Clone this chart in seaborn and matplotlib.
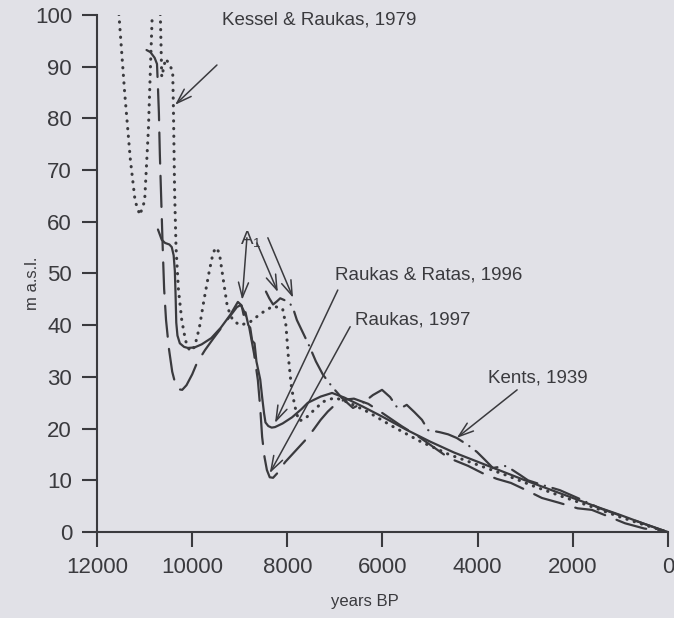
import matplotlib
matplotlib.use('Agg')
import matplotlib.pyplot as plt
import seaborn as sns

sns.set_theme(style="ticks")
plt.rcParams['font.family'] = ['Liberation Sans', 'DejaVu Sans']

# ---- data (years BP, m a.s.l.) ----
kessel_x = [11600, 11540, 11420, 11300, 11200, 11100, 11000, 10920, 10870, 10840, 10760, 10670,
            10655, 10640, 10560, 10480, 10410, 10395, 10370, 10340, 10290, 10220, 10140, 10050,
            9950, 9850, 9750, 9640, 9560, 9500, 9430, 9350, 9260, 9150, 9000, 8800, 8550, 8300,
            8100, 8030, 7980, 7920, 7850, 7760, 7640, 7450, 7250, 7000, 6700, 6300, 5800, 5200,
            4600, 4000, 3400, 2800, 2200, 1600, 1000, 500, 0]
kessel_y = [108, 100, 85, 72, 64, 61.3, 64, 78, 92, 100, 110, 100,
            94, 88, 91.5, 90.5, 89, 82, 66, 55, 47, 41, 37, 35,
            35.8, 39.5, 45, 50.5, 54, 55, 54, 49, 43.5, 41, 40, 40.5, 42.3, 43.7,
            43.2, 40, 34, 28.5, 24.6, 21.5, 21.8, 23.5, 25.2, 26, 25, 23.2, 20.5, 17.5,
            15, 13, 11, 8.8, 6.8, 4.9, 2.9, 1.4, 0]

ratas_x = [10720, 10640, 10570, 10480, 10430, 10390, 10365, 10350, 10335, 10310, 10260, 10170,
           10090, 9950, 9800, 9600, 9400, 9200, 9040, 8960, 8920, 8880, 8820, 8780, 8740, 8690,
           8650, 8570, 8530, 8490, 8460, 8400, 8330, 8260, 8100, 7900, 7700, 7570, 7300, 7060,
           6800, 6400, 6000, 5500, 5000, 4500, 4000, 3500, 3000, 2500, 2000, 1500, 1000, 500, 0]
ratas_y = [58.5, 56.5, 55.9, 55.6, 55.1, 53.5, 50.5, 46, 40.5, 38, 36.5, 35.8,
           35.6, 35.7, 36.3, 37.5, 39.5, 42, 44.5, 43.8, 42.0, 42.5, 40.0, 39.5, 37.0, 36.5,
           33.0, 29.5, 26.1, 23, 21.2, 20.5, 20.2, 20.3, 21, 22.2, 23.8, 25, 26.2, 26.9,
           26, 24.2, 22.3, 19.8, 17.5, 15.4, 13.6, 11.8, 10, 8.3, 6.6, 4.9, 3.3, 1.6, 0]

raukas_x = [10960, 10880, 10790, 10740, 10720, 10700, 10680, 10650, 10620, 10590, 10550, 10490,
            10420, 10350, 10280, 10210, 10120, 10000, 9900, 9730, 9550, 9370, 9200, 9060, 8980,
            8900, 8800, 8700, 8620, 8570, 8530, 8480, 8430, 8370, 8300, 8200, 8050, 7900, 7750,
            7600, 7450, 7300, 7150, 7000, 6800, 6600, 6300, 6000, 5600, 5200, 4600, 4200, 3900,
            3600, 3300, 3000, 2650, 2300, 1900, 1600, 1300, 900, 500, 0]
raukas_y = [93.2, 92.8, 91.7, 90.5, 86, 81, 73, 64, 55, 47, 41, 35.5,
            31, 28.5, 27.6, 27.5, 28.4, 30.5, 32.7, 35.2, 37.5, 39.7, 41.8, 43.5, 43.9,
            42.5, 39.5, 34.5, 29.4, 24, 18.4, 14.5, 12, 10.6, 10.5, 11.5, 13.5, 15, 16.5,
            18, 19.8, 21.7, 23.3, 24.6, 25.6, 25.8, 24.8, 23, 20.5, 18.2, 14.3, 12.8, 11.4,
            10.3, 9.5, 8.2, 6.6, 5.7, 4.6, 4.3, 3.2, 1.7, 0.7, 0]

kents_x = [8450, 8380, 8300, 8220, 8150, 8050, 7950, 7870, 7800, 7670, 7530, 7400, 7250, 7050,
           6850, 6620, 6410, 6200, 6010, 5840, 5700, 5570, 5490, 5330, 5170, 5040, 4900, 4790,
           4620, 4440, 4200, 4015, 3850, 3680, 3550, 3430, 3300, 3100, 2940, 2600, 2270, 1850,
           1430, 1000, 590, 250, 0]
kents_y = [46.5, 45.2, 44.0, 44.6, 45.2, 44.8, 44.3, 43, 41, 38.5, 35.8, 33, 30.4, 28,
           25.9, 24, 25, 26.5, 27.5, 26.1, 24.2, 24.2, 24.6, 23.2, 21.7, 19.7, 19.5, 19.3,
           18.9, 18.2, 16.8, 15.5, 14, 12.4, 12.6, 12.8, 12.2, 11, 10, 9, 8.1, 6.4,
           4.6, 3.2, 1.9, 0.8, 0]

x_ticks = [12000, 10000, 8000, 6000, 4000, 2000, 0]
y_ticks = [0, 10, 20, 30, 40, 50, 60, 70, 80, 90, 100]

ink = '#3a3a3e'
bg = '#e1e1e7'

fig = plt.figure(figsize=(6.74, 6.18), dpi=100, facecolor=bg)
ax = fig.add_axes([0.144, 0.139, 0.847, 0.837], facecolor=bg)

# (x, y, linestyle, linewidth)
series = [
    (kessel_x, kessel_y, (0, (0.1, 2.4)), 2.2),
    (ratas_x, ratas_y, '-', 1.6),
    (raukas_x, raukas_y, (0, (14, 5.5)), 1.6),
    (kents_x, kents_y, (0, (13, 3.5, 0.1, 3.5)), 1.6),
]
for xs, ys, ls, lw in series:
    sns.lineplot(x=xs, y=ys, sort=False, estimator=None, color=ink, lw=lw, ax=ax)
    line = ax.lines[-1]
    line.set_linestyle(ls)
    line.set_dash_capstyle('round')
    line.set_solid_capstyle('round')

ax.set_xlim(12000, 0)
ax.set_ylim(0, 100)
ax.set_xticks(x_ticks)
ax.set_xticklabels([str(t) for t in x_ticks])
ax.set_yticks(y_ticks)
sns.despine(ax=ax)
for s in ['left', 'bottom']:
    ax.spines[s].set_color(ink)
    ax.spines[s].set_linewidth(1.5)
ax.tick_params(axis='both', length=11, width=1.5, color=ink, labelcolor=ink,
               labelsize=16, pad=7, direction='out')

ax.set_xlabel('years BP', fontsize=12, color=ink)
ax.set_ylabel('m a.s.l.', fontsize=12, color=ink)
ax.xaxis.set_label_coords(0.469, -0.12)
ax.yaxis.set_label_coords(-0.1, 0.48)

# annotations
txt = dict(fontsize=13.5, color=ink, ha='left', va='center')
arw = dict(arrowstyle='->,head_length=0.9,head_width=0.3', color=ink, lw=1.1,
           shrinkA=0, shrinkB=0)

ax.text(9380, 99.0, 'Kessel & Raukas, 1979', **txt)
ax.annotate('', xy=(10360, 82.6), xytext=(9480, 90.3), arrowprops=arw)

ax.text(9000, 56.5, r'A$_{\mathregular{1}}$', **txt)
ax.annotate('', xy=(8950, 44.9), xytext=(8850, 56.9), arrowprops=arw)
ax.annotate('', xy=(8200, 46.4), xytext=(8640, 55.9), arrowprops=arw)
ax.annotate('', xy=(7880, 45.3), xytext=(8410, 56.9), arrowprops=arw)

ax.text(7000, 49.7, 'Raukas & Ratas, 1996', **txt)
ax.annotate('', xy=(8260, 21.1), xytext=(6940, 46.8), arrowprops=arw)

ax.text(6580, 41.0, 'Raukas, 1997', **txt)
ax.annotate('', xy=(8370, 11.4), xytext=(6680, 39.7), arrowprops=arw)

ax.text(3780, 29.8, 'Kents, 1939', **txt)
ax.annotate('', xy=(4440, 18.2), xytext=(3170, 27.5), arrowprops=arw)

plt.savefig('out.png', dpi=100, facecolor=bg)
plt.close()
